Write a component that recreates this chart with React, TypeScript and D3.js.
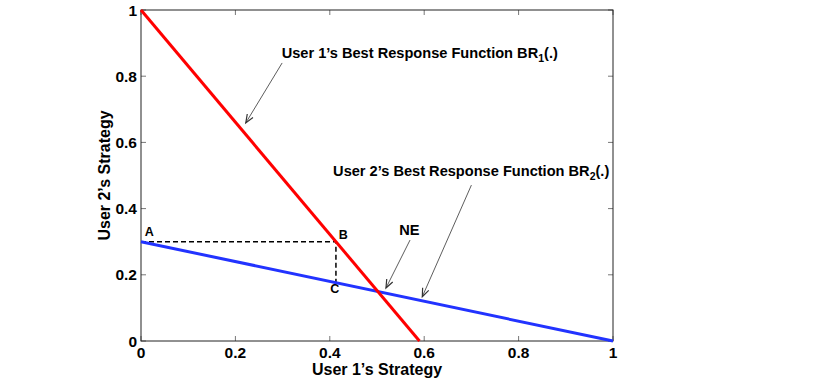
import React from 'react'
import * as d3 from 'd3'

// best response lines (x = user 1 strategy, y = user 2 strategy)
const br1X = [0, 0.59]
const br1Y = [1, 0]
const br2X = [0, 1]
const br2Y = [0.3, 0]

// dashed construction A -> B -> C
const dashX = [0, 0.413, 0.413]
const dashY = [0.3, 0.3, 0.176]

const xTicks = [0, 0.2, 0.4, 0.6, 0.8, 1]
const yTicks = [0, 0.2, 0.4, 0.6, 0.8, 1]

// point labels
const pointNames = ['A', 'B', 'C']
const pointX = [0.008, 0.419, 0.401]
const pointY = [0.318, 0.308, 0.145]

// annotation arrows: tail -> head
const arrowTailX = [0.299, 0.7, 0.57]
const arrowTailY = [0.84, 0.471, 0.305]
const arrowHeadX = [0.222, 0.596, 0.519]
const arrowHeadY = [0.659, 0.134, 0.16]

function App() {
  const width = 830, height = 389
  const margin = { left: 141, right: 217, top: 10, bottom: 48 }
  const x = d3.scaleLinear().domain([0, 1]).range([margin.left, width - margin.right])
  const y = d3.scaleLinear().domain([0, 1]).range([height - margin.bottom, margin.top])

  const line = d3.line<[number, number]>()
    .x(d => x(d[0]))
    .y(d => y(d[1]))

  const br1 = br1X.map((v, i) => [v, br1Y[i]] as [number, number])
  const br2 = br2X.map((v, i) => [v, br2Y[i]] as [number, number])
  const dash = dashX.map((v, i) => [v, dashY[i]] as [number, number])

  const font = 'Liberation Sans, Arial, Helvetica, sans-serif'
  const x0 = x(0), x1 = x(1), y0 = y(0), y1 = y(1)

  // arrowhead as a small V at the head end
  const arrows = arrowTailX.map((tx, i) => {
    const ax = x(tx), ay = y(arrowTailY[i])
    const bx = x(arrowHeadX[i]), by = y(arrowHeadY[i])
    const ang = Math.atan2(by - ay, bx - ax)
    const len = 9, spread = 0.38
    const p1 = [bx - len * Math.cos(ang - spread), by - len * Math.sin(ang - spread)]
    const p2 = [bx - len * Math.cos(ang + spread), by - len * Math.sin(ang + spread)]
    return { ax, ay, bx, by, p1, p2 }
  })

  return (
    <svg width={width} height={height} style={{ display: 'block', position: 'absolute', left: 0, top: 0 }}>
      <rect width={width} height={height} fill="#fff" />
      <g fontFamily={font} fontWeight="bold">
        {/* ticks inside, on all four sides */}
        {xTicks.map(t => (
          <g key={'xt' + t} stroke="#777" strokeWidth={1}>
            <line x1={x(t)} x2={x(t)} y1={y0} y2={y0 - 5} />
            <line x1={x(t)} x2={x(t)} y1={y1} y2={y1 + 5} />
          </g>
        ))}
        {yTicks.map(t => (
          <g key={'yt' + t} stroke="#777" strokeWidth={1}>
            <line x1={x0} x2={x0 + 5} y1={y(t)} y2={y(t)} />
            <line x1={x1} x2={x1 - 5} y1={y(t)} y2={y(t)} />
          </g>
        ))}
        <rect x={x0} y={y1} width={x1 - x0} height={y0 - y1} fill="none" stroke="#222" strokeWidth={1} />

        {xTicks.map(t => (
          <text key={'xl' + t} x={x(t)} y={y0 + 17} textAnchor="middle" fontSize={15.5}>{String(t)}</text>
        ))}
        {yTicks.map(t => (
          <text key={'yl' + t} x={x0 - 4} y={y(t) + 5.5} textAnchor="end" fontSize={15.5}>{String(t)}</text>
        ))}

        <text x={(x0 + x1) / 2} y={375} textAnchor="middle" fontSize={16}>User 1’s Strategy</text>
        <text transform={`translate(110, ${(y0 + y1) / 2}) rotate(-90)`} textAnchor="middle" fontSize={16}>User 2’s Strategy</text>

        <path d={line(dash) ?? ''} fill="none" stroke="#000" strokeWidth={1.5} strokeDasharray="5,3" />
        <path d={line(br2) ?? ''} fill="none" stroke="#2233ff" strokeWidth={3} />
        <path d={line(br1) ?? ''} fill="none" stroke="#ff0000" strokeWidth={3} />

        {pointNames.map((n, i) => (
          <text key={n} x={x(pointX[i])} y={y(pointY[i])} fontSize={12.5}>{n}</text>
        ))}

        {arrows.map((a, i) => (
          <g key={'ar' + i} stroke="#333" strokeWidth={0.8} fill="none">
            <line x1={a.ax} y1={a.ay} x2={a.bx} y2={a.by} />
            <path d={`M${a.p1[0]},${a.p1[1]}L${a.bx},${a.by}L${a.p2[0]},${a.p2[1]}`} strokeWidth={1.2} />
          </g>
        ))}

        <text x={x(0.298)} y={y(0.855)} fontSize={14.6}>
          User 1’s Best Response Function BR<tspan fontSize={10.5} dy={4}>1</tspan><tspan dy={-4}>(.)</tspan>
        </text>
        <text x={x(0.407)} y={y(0.498)} fontSize={14.6}>
          User 2’s Best Response Function BR<tspan fontSize={10.5} dy={4}>2</tspan><tspan dy={-4}>(.)</tspan>
        </text>
        <text x={x(0.547)} y={y(0.32)} fontSize={14.6}>NE</text>
      </g>
    </svg>
  )
}

export default App
